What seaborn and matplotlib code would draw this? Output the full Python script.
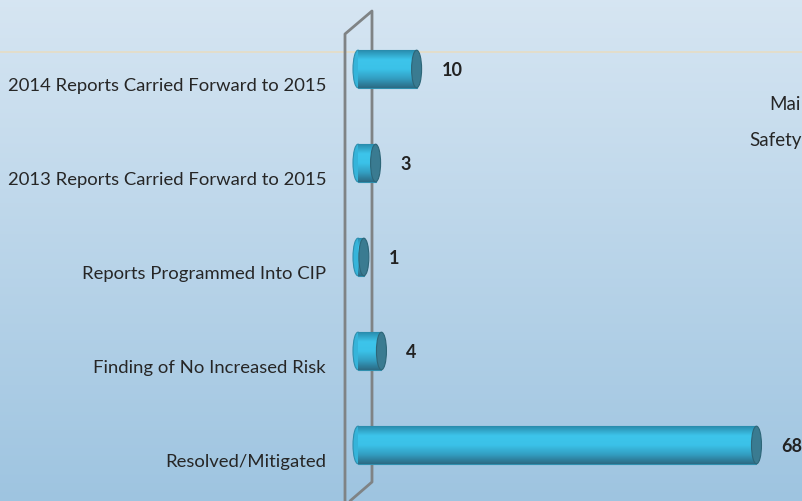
import numpy as np
import pandas as pd
import seaborn as sns
from matplotlib import pyplot as plt
from matplotlib.patches import Ellipse
from matplotlib.transforms import ScaledTranslation

categories = ['2014 Reports Carried Forward to 2015',
              '2013 Reports Carried Forward to 2015',
              'Reports Programmed Into CIP',
              'Finding of No Increased Risk',
              'Resolved/Mitigated']
counts = [10, 3, 1, 4, 68]
# text that shows at the right edge (cut off in the original)
side_text = ['Mai', 'Safety']

df = pd.DataFrame({'category': categories, 'count': counts})

sns.set_style('white')
plt.rcParams['font.family'] = ['Lato', 'DejaVu Sans']

W, H = 803, 502
fig = plt.figure(figsize=(W / 100, H / 100), dpi=100)

# gradient background + 3d wall outline
bg = fig.add_axes([0, 0, 1, 1], zorder=0)
grad = np.linspace(0, 1, 256)[:, None]
top = np.array([0.84, 0.90, 0.95])
bot = np.array([0.62, 0.77, 0.88])
img = top[None, None, :] * (1 - grad[..., None]) + bot[None, None, :] * grad[..., None]
bg.imshow(img, aspect='auto', extent=[0, W, H, 0])
bg.set_xlim(0, W)
bg.set_ylim(H, 0)
bg.axis('off')
bg.plot([0, W], [53, 53], color='#e6dcc4', lw=1.2)
wall = dict(color='#7f8385', lw=2)
bg.plot([345, 345, 372, 372, 350], [H, 35, 12, 483, H], **wall)

# main bar axes: zero at x=358px
ax = fig.add_axes([358 / W, 9 / H, (W - 358) / W, 470 / H], zorder=1)
ax.patch.set_alpha(0)
sns.barplot(data=df, x='count', y='category', color='#3cc4ea', width=0.4,
            edgecolor='#2f8fae', linewidth=0.8, ax=ax, zorder=3)

cap_w = 10 / 5.86
shade = np.array([[0.16, 0.55, 0.68], [0.24, 0.77, 0.92], [0.23, 0.76, 0.91],
                  [0.20, 0.62, 0.76], [0.17, 0.42, 0.52]])
for p in ax.patches[:len(counts)]:
    x, y, w, h = p.get_x(), p.get_y(), p.get_width(), p.get_height()
    # rounded left end
    ax.add_patch(Ellipse((x, y + h / 2), cap_w, h, facecolor='#35b4da',
                         edgecolor='#2f8fae', lw=0.8, zorder=2, clip_on=False))
    t = np.linspace(0, 1, 64)
    cols = np.stack([np.interp(t, np.linspace(0, 1, 5), shade[:, i]) for i in range(3)], axis=-1)
    im = ax.imshow(cols[:, None, :], aspect='auto', extent=[x, x + w, y + h, y],
                   zorder=3.5, interpolation='bilinear')
    im.set_clip_path(p)
    # right end cap
    ax.add_patch(Ellipse((x + w, y + h / 2), cap_w, h, facecolor='#3a7b91',
                         edgecolor='#2d6678', lw=0.8, zorder=4))
ax.set_xlim(0, (W - 358) / 5.86)
ax.set_ylim(4.5, -0.5)

ax.bar_label(ax.containers[0], labels=[str(c) for c in counts], padding=18,
             fontsize=13, fontweight='bold', color='#222222', zorder=5)

ax.set_xlabel('')
ax.set_ylabel('')
ax.set_xticks([])
ax.tick_params(axis='y', length=0, pad=23, labelsize=13.3, labelcolor='#262626')
off = ScaledTranslation(0, -0.14, fig.dpi_scale_trans)
for lab in ax.get_yticklabels():
    lab.set_transform(lab.get_transform() + off)
sns.despine(ax=ax, left=True, bottom=True)

fig.text(769 / W, 1 - 104 / H, side_text[0], fontsize=13.5, color='#262626', va='center')
fig.text(749 / W, 1 - 141 / H, side_text[1], fontsize=13.5, color='#262626', va='center')

fig.savefig('out.png', dpi=100)
